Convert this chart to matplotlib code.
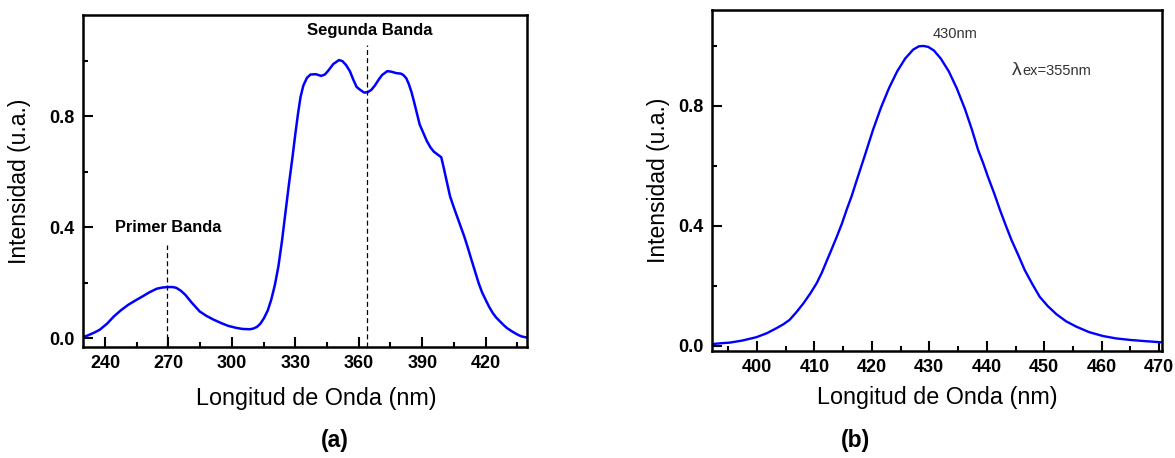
import matplotlib.pyplot as plt
from matplotlib.ticker import MultipleLocator

plt.rcParams['font.family'] = ['Liberation Sans', 'DejaVu Sans']

# (a) excitation spectrum
wl_a = [229.5, 232, 235, 237.5, 241, 244.2, 247.5, 251, 254.5, 257.7, 261, 264.5, 267, 269.6,
        272, 273.8, 276, 278, 281, 284.8, 288, 291.5, 295, 298.3, 302, 305, 308.4, 310,
        311.8, 313.5, 315.2, 317, 318.6, 320.3, 322, 323.7, 325.3, 327, 328.7, 330, 331.3,
        332.5, 333.8, 335.5, 337.2, 339.7, 342.2, 344, 345.6, 348, 350.7, 352.3, 354,
        355.8, 357.5, 359, 360.8, 362.5, 364.2, 366, 367.6, 369.3, 371, 373.5, 375.5,
        377.7, 380, 381.1, 382.5, 383.7, 385, 386.2, 387.5, 388.8, 390.5, 392.2, 394,
        395.5, 397.2, 399, 400.3, 401.5, 403.2, 405, 406.5, 408.2, 409.9, 411.6, 413.3,
        415, 416.7, 418.3, 420, 421.7, 423.4, 425, 426.8, 428.5, 430.1, 432.5, 435.2,
        437, 439.5]
int_a = [0.003, 0.01, 0.02, 0.03, 0.052, 0.078, 0.1, 0.12, 0.136, 0.15, 0.165, 0.178, 0.182, 0.184,
         0.184, 0.181, 0.17, 0.156, 0.128, 0.096, 0.08, 0.066, 0.054, 0.044, 0.037, 0.033, 0.032, 0.034,
         0.04, 0.052, 0.072, 0.1, 0.138, 0.19, 0.258, 0.35, 0.45, 0.555, 0.654, 0.735, 0.81,
         0.87, 0.91, 0.938, 0.95, 0.951, 0.945, 0.95, 0.964, 0.988, 1.002, 0.998, 0.984,
         0.962, 0.93, 0.905, 0.894, 0.885, 0.886, 0.895, 0.91, 0.93, 0.948, 0.962, 0.96,
         0.955, 0.953, 0.948, 0.936, 0.915, 0.885, 0.85, 0.81, 0.77, 0.74, 0.71, 0.686,
         0.672, 0.662, 0.652, 0.61, 0.568, 0.51, 0.47, 0.438, 0.402, 0.366, 0.325, 0.282,
         0.24, 0.198, 0.165, 0.138, 0.112, 0.09, 0.074, 0.06, 0.047, 0.036, 0.024, 0.012,
         0.006, 0.002]

# (b) emission spectrum
wl_b = [392.2, 393.8, 395.3, 397.5, 399.9, 401.7, 403.4, 404.6, 405.7, 406.9, 408.1, 409.3,
        410.4, 411.3, 412.1, 413, 413.9, 414.8, 415.6, 416.5, 417.3, 418.8, 420.2, 421.6,
        423, 424.4, 425.8, 427.2, 428.2, 429, 429.8, 430.8, 432, 433.4, 434.8, 436.2, 437.4,
        438.5, 439.4, 440.2, 441.3, 442.3, 443.3, 444.3, 445.5, 446.6, 447.9, 449.2, 450.6,
        452.1, 453.8, 455.6, 457.8, 460.2, 462.5, 464.9, 467.5, 470.4]
int_b = [0.006, 0.009, 0.011, 0.018, 0.029, 0.042, 0.059, 0.072, 0.087, 0.113, 0.142, 0.175,
         0.209, 0.244, 0.281, 0.322, 0.364, 0.408, 0.453, 0.5, 0.548, 0.636, 0.72, 0.795,
         0.86, 0.915, 0.958, 0.988, 0.999, 1.0, 0.997, 0.985, 0.958, 0.915, 0.858, 0.79, 0.722,
         0.653, 0.608, 0.564, 0.508, 0.453, 0.402, 0.353, 0.302, 0.253, 0.207, 0.164, 0.133,
         0.106, 0.082, 0.064, 0.046, 0.033, 0.025, 0.02, 0.016, 0.012]

fig = plt.figure(figsize=(11.75, 4.58), dpi=100)
ax1 = fig.add_axes([0.0706, 0.2424, 0.378, 0.7246])
ax2 = fig.add_axes([0.606, 0.2336, 0.383, 0.7446])

ax1.plot(wl_a, int_a, color='#0000ff', lw=1.8)
ax2.plot(wl_b, int_b, color='#0000ff', lw=1.7)

ax1.set_xlim(229.6, 439.6)
ax1.set_ylim(-0.032, 1.164)
ax1.xaxis.set_major_locator(MultipleLocator(30))
ax1.xaxis.set_minor_locator(MultipleLocator(15))

ax2.set_xlim(392.2, 470.5)
ax2.set_ylim(-0.017, 1.12)
ax2.xaxis.set_major_locator(MultipleLocator(10))
ax2.xaxis.set_minor_locator(MultipleLocator(5))

for ax in (ax1, ax2):
    ax.yaxis.set_major_locator(MultipleLocator(0.4))
    ax.yaxis.set_minor_locator(MultipleLocator(0.2))
    ax.yaxis.set_major_formatter(plt.FormatStrFormatter('%.1f'))
    ax.tick_params(which='both', direction='in', width=1.5, top=False, right=False)
    ax.tick_params(which='major', length=7, labelsize=13, pad=6)
    ax.tick_params(which='minor', length=3.5)
    for lab in ax.get_xticklabels() + ax.get_yticklabels():
        lab.set_fontweight('bold')
    for s in ax.spines.values():
        s.set_linewidth(1.8)
    ax.set_xlabel('Longitud de Onda (nm)', fontsize=16.8, labelpad=7)
    ax.set_ylabel('Intensidad (u.a.)', fontsize=16.5, labelpad=6)

# left x label sits a little right of centre in the original
ax1.xaxis.set_label_coords(0.525, -0.12)
ax1.yaxis.set_label_coords(-0.118, 0.5)

# band markers
ax1.plot([269.4, 269.4], [-0.032, 0.335], 'k--', lw=0.9, dashes=(4, 2.5))
ax1.plot([363.9, 363.9], [-0.032, 1.056], 'k--', lw=0.9, dashes=(4, 2.5))
ax1.text(270, 0.37, 'Primer Banda', fontsize=11.8, fontweight='bold', ha='center', va='bottom')
ax1.text(365, 1.08, 'Segunda Banda', fontsize=12, fontweight='bold', ha='center', va='bottom')

ax2.text(434.4, 1.04, '430nm', fontsize=10.5, ha='center', va='center', color='#333333')
ax2.text(444.3, 0.917, 'λ', fontsize=14, ha='left', va='center', color='#333333')
ax2.text(446.2, 0.917, 'ex=355nm', fontsize=10.5, ha='left', va='center', color='#333333')

fig.text(0.285, 0.025, '(a)', fontsize=16.5, fontweight='bold', ha='center')
fig.text(0.728, 0.025, '(b)', fontsize=16.5, fontweight='bold', ha='center')

fig.savefig('out.png', dpi=100)
